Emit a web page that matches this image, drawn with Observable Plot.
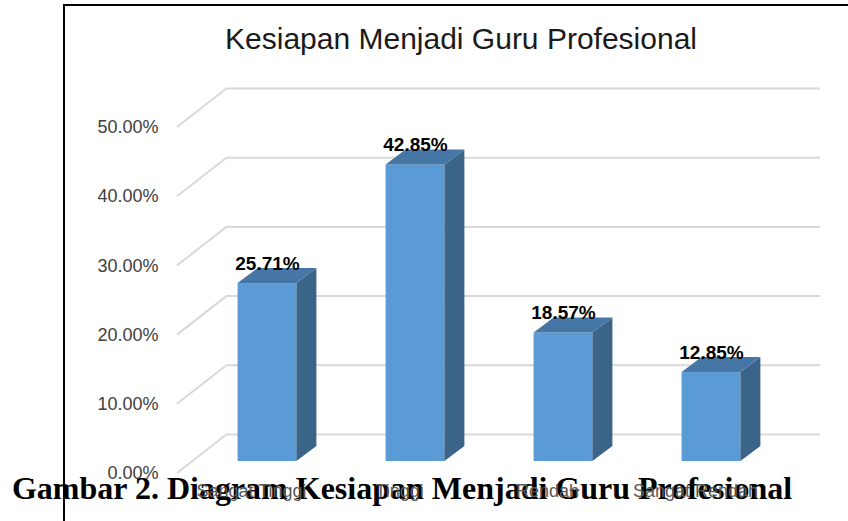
<!DOCTYPE html>
<html><head><meta charset="utf-8">
<script src="https://cdn.jsdelivr.net/npm/d3@7"></script>
<script src="https://cdn.jsdelivr.net/npm/@observablehq/plot@0.6"></script>
<style>
html,body{margin:0;padding:0;background:#fff;}
#wrap{position:relative;width:848px;height:521px;overflow:hidden;background:#fff;}
#wrap svg{position:absolute;left:0;top:0;}
#box{position:absolute;left:63px;top:4px;right:-10px;bottom:-10px;border-left:2px solid #000;border-top:2px solid #000;z-index:2;pointer-events:none;}
</style></head><body><div id="wrap"><div id="box"></div></div>
<script>
const chartTitle = "Kesiapan Menjadi Guru Profesional";
const caption = "Gambar 2. Diagram Kesiapan Menjadi Guru Profesional";
const categories = ["Sangat Tinggi", "Tinggi", "Rendah", "Sangat Rendah"];
const values = [25.71, 42.85, 18.57, 12.85];
const valueLabels = ["25.71%", "42.85%", "18.57%", "12.85%"];
const yTicks = [0, 10, 20, 30, 40, 50];
const yTickLabels = ["0.00%", "10.00%", "20.00%", "30.00%", "40.00%", "50.00%"];

const data = categories.map((c, i) => ({category: c, value: values[i], label: valueLabels[i]}));
const yLabelData = yTicks.map((t, i) => ({t, label: yTickLabels[i]}));

// 3D projection offsets (pixels)
const DEPTH_DX = 20, DEPTH_DY = -15;   // bar depth
const WALL_DX = 35, WALL_DY = -27;     // back wall relative to bar plane
const FRONT_DX = -15, FRONT_DY = 12;   // label plane relative to bar plane
const INSET = 44.6;

const FRONT = "#5B9BD5", TOP = "#4676A6", SIDE = "#3B6489", GRID = "#D9D9D9";

function bw(x) { const b = x.bandwidth; return typeof b === "function" ? b() : b; }

function diagonals(index, scales, vals, dims) {
  const g = d3.create("svg:g");
  const y = scales.y, x0 = dims.marginLeft;
  for (const t of yTicks) {
    g.append("line")
      .attr("x1", x0 + FRONT_DX).attr("y1", y(t) + FRONT_DY)
      .attr("x2", x0 + WALL_DX).attr("y2", y(t) + WALL_DY)
      .attr("stroke", GRID).attr("stroke-width", 2);
  }
  return g.node();
}

function barFaces(index, scales, vals, dims) {
  const g = d3.create("svg:g");
  const {x, y} = scales;
  const w = bw(x);
  for (const d of data) {
    const l = x(d.category) + INSET, r = x(d.category) + w - INSET;
    const t = y(d.value), b = y(0);
    g.append("polygon")
      .attr("points", [[r, t], [r + DEPTH_DX, t + DEPTH_DY], [r + DEPTH_DX, b + DEPTH_DY], [r, b]].map(p => p.join(",")).join(" "))
      .attr("fill", SIDE);
    g.append("polygon")
      .attr("points", [[l, t], [l + DEPTH_DX, t + DEPTH_DY], [r + DEPTH_DX, t + DEPTH_DY], [r, t]].map(p => p.join(",")).join(" "))
      .attr("fill", TOP);
  }
  return g.node();
}

const chart = Plot.plot({
  width: 848,
  height: 521,
  marginLeft: 192,
  marginRight: 63,
  marginTop: 115,
  marginBottom: 60,
  style: {fontFamily: "'Liberation Sans', Arial, sans-serif", background: "transparent", overflow: "visible"},
  x: {domain: categories, padding: 0, axis: null},
  y: {domain: [0, 50], axis: null},
  marks: [
    Plot.ruleY(yTicks, {stroke: GRID, strokeWidth: 2, dx: WALL_DX, dy: WALL_DY}),
    diagonals,
    Plot.barY(data, {x: "category", y: "value", fill: FRONT, insetLeft: INSET, insetRight: INSET}),
    barFaces,
    Plot.text(data, {x: "category", y: "value", text: "label", dy: -20, fontSize: 19, fontWeight: "bold", fill: "#000"}),
    Plot.text(yLabelData, {y: "t", text: "label", frameAnchor: "left", textAnchor: "end", dx: -34, dy: 12, fontSize: 18, fill: "#404040"}),
    Plot.text([chartTitle], {text: d => d, frameAnchor: "top", lineAnchor: "bottom", dx: -28, dy: -67, fontSize: 30, fill: "#1a1a1a"}),
    Plot.text([caption], {text: d => d, frameAnchor: "bottom", lineAnchor: "bottom", dx: -87, dy: 37, fontSize: 32, fontWeight: "bold", fontFamily: "'Liberation Serif', 'Times New Roman', serif", fill: "#000"}),
    Plot.text(categories, {x: d => d, text: d => d, frameAnchor: "bottom", dx: -16, dy: 35, fontSize: 18, fill: "#595959"})
  ]
});
document.getElementById("wrap").appendChild(chart);
</script>
</body></html>
